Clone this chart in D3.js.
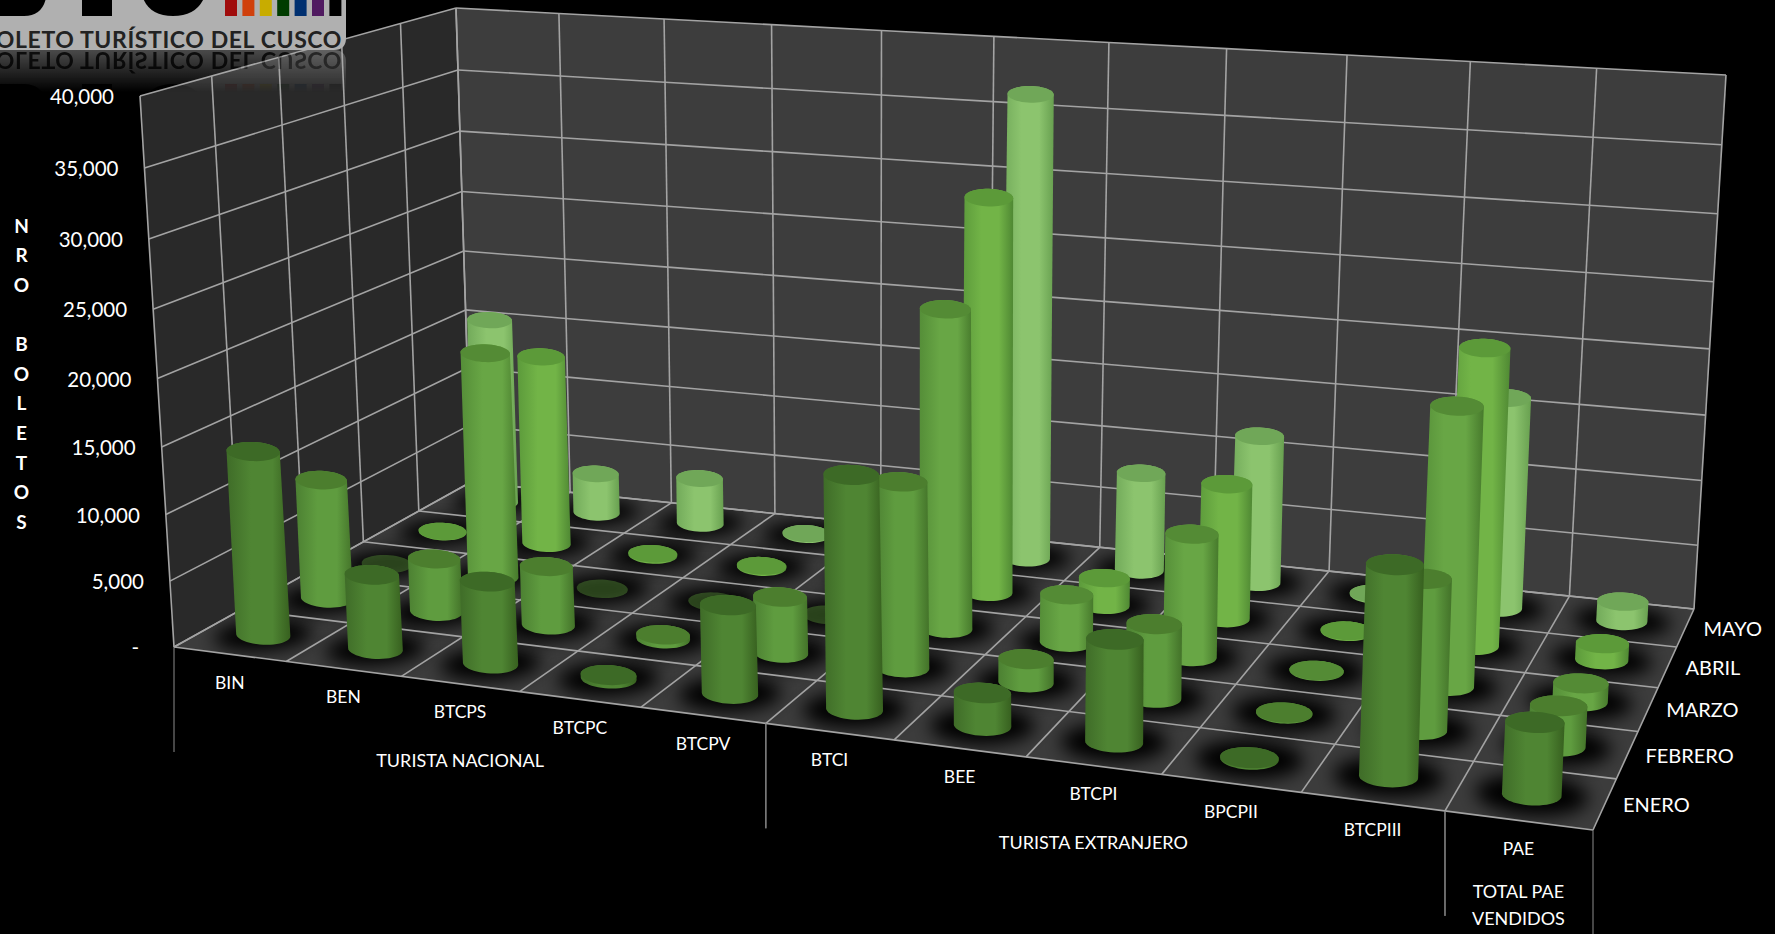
<!DOCTYPE html>
<html>
<head>
<meta charset="utf-8">
<script src="https://cdn.jsdelivr.net/npm/d3@7"></script>
<style>
    html, body { margin: 0; background: #000; overflow: hidden; }
    text { font-family: Lato, "Open Sans", sans-serif; fill: #fff; }
</style>
</head>
<body>
<svg id="chart" width="1775" height="934"></svg>
<script>
'use strict';

var categories = ['BIN', 'BEN', 'BTCPS', 'BTCPC', 'BTCPV', 'BTCI', 'BEE', 'BTCPI', 'BPCPII', 'BTCPIII', 'PAE'];
var months = ['ENERO', 'FEBRERO', 'MARZO', 'ABRIL', 'MAYO'];
var enero = [13900, 5600, 6100, 250, 6400, 16500, 2300, 7100, 100, 14100, 4800];
var febrero = [9300, 4100, 4500, 300, 4200, 13600, 1700, 5300, 60, 10500, 2800];
var marzo = [0, 17700, 0, 0, 0, 23900, 3600, 9100, 40, 20000, 1300];
var abril = [40, 15300, 100, 100, 0, 30300, 2100, 10300, 60, 22000, 1200];
var mayo = [15500, 3300, 3800, 80, 0, 36500, 7800, 11600, 80, 16200, 1500];
var series = [enero, febrero, marzo, abril, mayo];
var yTicks = [0, 5000, 10000, 15000, 20000, 25000, 30000, 35000, 40000];
var groups = [
    {lines: ['TURISTA NACIONAL'], from: 0, to: 5},
    {lines: ['TURISTA EXTRANJERO'], from: 5, to: 10},
    {lines: ['TOTAL PAE', 'VENDIDOS'], from: 10, to: 11}
];
var yTitle = 'NRO BOLETOS';

// body edge, body centre, body dark side, top face
var palette = [
    ['#3f6c28', '#4f8533', '#37601f', '#3d6a26'],
    ['#4c8032', '#5f9c3f', '#437229', '#4c7e2e'],
    ['#558e38', '#68a645', '#477a2c', '#548b35'],
    ['#5c9a3b', '#72b447', '#4f8833', '#5c9a39'],
    ['#72aa5a', '#8cc46e', '#68a050', '#70a758']
];

var svg = d3.select('#chart');
var defs = svg.append('defs');

// projection: floor and ceiling corners as seen in the picture
var floorQuad = [[174, 647], [1593, 830], [1694, 609], [471, 482]];
var ceilQuad = [[140, 96], [1625, 180], [1726, 75], [456, 8]];

function squareToQuad(q) {
    var dx1 = q[1][0] - q[2][0], dx2 = q[3][0] - q[2][0], sx = q[0][0] - q[1][0] + q[2][0] - q[3][0];
    var dy1 = q[1][1] - q[2][1], dy2 = q[3][1] - q[2][1], sy = q[0][1] - q[1][1] + q[2][1] - q[3][1];
    var den = dx1 * dy2 - dx2 * dy1;
    var g = (sx * dy2 - dx2 * sy) / den, h = (dx1 * sy - sx * dy1) / den;
    var a = q[1][0] - q[0][0] + g * q[1][0], b = q[3][0] - q[0][0] + h * q[3][0];
    var d = q[1][1] - q[0][1] + g * q[1][1], e = q[3][1] - q[0][1] + h * q[3][1];
    return function (u, v) {
        var W = g * u + h * v + 1;
        return [(a * u + b * v + q[0][0]) / W, (d * u + e * v + q[0][1]) / W];
    };
}

var floorMap = squareToQuad(floorQuad), ceilMap = squareToQuad(ceilQuad);
function warp(t, k) { return t * k / (1 + (k - 1) * t); }

function project(u, v, w) {
    var ww = warp(w, 0.95);
    var f = floorMap(warp(u, 1.015), v), c = ceilMap(warp(u, 0.89 + 0.032 * v), v);
    return [f[0] + (c[0] - f[0]) * ww, f[1] + (c[1] - f[1]) * ww];
}

var uScale = d3.scaleBand().domain(categories).range([0, 1]);
var vScale = d3.scaleBand().domain(months).range([0, 1]);
var wScale = d3.scaleLinear().domain([0, 40000]).range([0, 1]);
var uEdges = d3.range(categories.length + 1).map(function (i) { return i * uScale.step(); });
var vEdges = d3.range(months.length + 1).map(function (i) { return i * vScale.step(); });

var line = d3.line();
function closed(pts) { return line(pts) + 'Z'; }
function seg(a, b) { return line([a, b]); }

// walls and floor
var walls = svg.append('g');
walls.append('path').attr('d', closed([project(0, 1, 0), project(1, 1, 0), project(1, 1, 1), project(0, 1, 1)])).attr('fill', '#3d3d3d');
walls.append('path').attr('d', closed([project(0, 0, 0), project(0, 1, 0), project(0, 1, 1), project(0, 0, 1)])).attr('fill', '#292929');
walls.append('path').attr('d', closed([project(0, 0, 0), project(1, 0, 0), project(1, 1, 0), project(0, 1, 0)])).attr('fill', '#3c3c3c');

// soft dark patch under every column
defs.append('filter').attr('id', 'soft').attr('x', '-40%').attr('y', '-60%').attr('width', '180%').attr('height', '220%')
    .append('feGaussianBlur').attr('stdDeviation', 9);
defs.append('clipPath').attr('id', 'floorClip').append('path')
    .attr('d', closed([project(0, 0, 0), project(1, 0, 0), project(1, 1, 0), project(0, 1, 0)]));

var angles = d3.range(48).map(function (i) { return i / 48 * 2 * Math.PI; });

function floorRing(u, v, ru, rv) {
    return angles.map(function (t) {
        return project(u + ru * Math.cos(t), v + rv * Math.sin(t), 0);
    });
}

// column section: a nearly level ellipse on screen, narrower towards the back
function ring(u, v, w) {
    var c = project(u, v, w), a = project(u - 0.02, v, w), b = project(u + 0.02, v, w);
    var rx = (27.5 + 3 * u - 5.3 * v) * (1 - 0.05 * w), ry = rx * 0.36;
    var tilt = 0.35 * (b[1] - a[1]) / (b[0] - a[0]);
    return angles.map(function (t) {
        return [c[0] + rx * Math.cos(t), c[1] + ry * Math.sin(t) + tilt * rx * Math.cos(t)];
    });
}

var patches = svg.append('g').attr('clip-path', 'url(#floorClip)');
months.forEach(function (m) {
    categories.forEach(function (c) {
        var u = uScale(c) + uScale.step() / 2, v = vScale(m) + vScale.step() / 2;
        patches.append('path').attr('d', closed(floorRing(u, v, uScale.step() * 0.38, vScale.step() * 0.39)))
            .attr('fill', '#000').attr('filter', 'url(#soft)');
    });
});

// grid
var grid = svg.append('g').attr('stroke', '#a3a3a3').attr('stroke-width', 1.6).attr('fill', 'none');
uEdges.forEach(function (u) {
    grid.append('path').attr('d', seg(project(u, 0, 0), project(u, 1, 0)));
    grid.append('path').attr('d', seg(project(u, 1, 0), project(u, 1, 1)));
});
vEdges.forEach(function (v) {
    grid.append('path').attr('d', seg(project(0, v, 0), project(1, v, 0)));
    grid.append('path').attr('d', seg(project(0, v, 0), project(0, v, 1)));
});
yTicks.forEach(function (t) {
    var w = wScale(t);
    grid.append('path').attr('d', seg(project(0, 0, w), project(0, 1, w)));
    grid.append('path').attr('d', line(uEdges.map(function (u) { return project(u, 1, w); })));
});

// cylinders, back row first
palette.forEach(function (p, i) {
    var g = defs.append('linearGradient').attr('id', 'body' + i);
    g.append('stop').attr('offset', '0%').attr('stop-color', p[0]);
    g.append('stop').attr('offset', '38%').attr('stop-color', p[1]);
    g.append('stop').attr('offset', '72%').attr('stop-color', p[1]);
    g.append('stop').attr('offset', '100%').attr('stop-color', p[2]);
});

var cols = svg.append('g');
d3.range(months.length - 1, -1, -1).forEach(function (s) {
    categories.forEach(function (c, k) {
        var value = series[s][k];
        var u = uScale(c) + uScale.step() / 2, v = vScale(months[s]) + vScale.step() / 2;
        var w = wScale(value);
        var base = ring(u, v, 0), top = ring(u, v, w);
        if (value > 0) {
            cols.append('path').attr('d', closed(d3.polygonHull(base.concat(top)))).attr('fill', 'url(#body' + s + ')');
        }
        // empty cells only leave a dim disc on the floor
        cols.append('path').attr('d', closed(top))
            .attr('fill', palette[s][3])
            .attr('fill-opacity', value > 0 ? 1 : 0.45);
    });
});

// value axis
var labels = svg.append('g');
yTicks.forEach(function (t) {
    var p = project(0, 0, wScale(t));
    labels.append('text').attr('x', p[0] - (t === 0 ? 35 : 26)).attr('y', p[1] + 3)
        .attr('text-anchor', 'end').attr('dominant-baseline', 'middle').attr('font-size', 20.5)
        .text(t === 0 ? '-' : d3.format(',')(t));
});

var titleY = d3.scalePoint().domain(d3.range(yTitle.length)).range([228, 524]);
yTitle.split('').forEach(function (ch, i) {
    labels.append('text').attr('x', 21.5).attr('y', titleY(i))
        .attr('text-anchor', 'middle').attr('dominant-baseline', 'middle')
        .attr('font-size', 19).attr('font-weight', 700).text(ch);
});

categories.forEach(function (c) {
    var p = project(uScale(c) + uScale.step() / 2, 0, 0);
    labels.append('text').attr('x', p[0]).attr('y', p[1] + 30)
        .attr('text-anchor', 'middle').attr('dominant-baseline', 'middle').attr('font-size', 17.5).text(c);
});

months.forEach(function (m) {
    var p = project(1, vScale(m) + vScale.step() / 2, 0);
    labels.append('text').attr('x', p[0] + 18).attr('y', p[1] + 3)
        .attr('dominant-baseline', 'middle').attr('font-size', 20).text(m);
});

// group brackets below the front edge
groups.forEach(function (g) {
    [g.from, g.to].forEach(function (i) {
        var p = project(uEdges[i], 0, 0);
        labels.append('path').attr('d', seg(p, [p[0], p[1] + 105])).attr('stroke', '#8c8c8c').attr('fill', 'none');
    });
    var mid = project((uEdges[g.from] + uEdges[g.to]) / 2, 0, 0);
    g.lines.forEach(function (t, i) {
        labels.append('text').attr('x', mid[0]).attr('y', mid[1] + 79 - (g.lines.length - 1) * 6 + i * 27)
            .attr('text-anchor', 'middle').attr('dominant-baseline', 'middle').attr('font-size', 18).text(t);
    });
});

// logo clipped by the top left corner, with its reflection
var stripes = ['#a00c0c', '#d0400c', '#c8ac00', '#003c00', '#003070', '#501a60', '#000'];
function drawLogo(g) {
    g.append('path').attr('d', 'M-10,-2H346V38Q346,50 334,50H-10Z').attr('fill', '#b0b0b0');
    g.append('path').attr('d', 'M-10,-2H46Q42,16 24,16H-10Z').attr('fill', '#000');
    g.append('rect').attr('x', 82).attr('y', -2).attr('width', 30).attr('height', 18).attr('fill', '#000');
    g.append('path').attr('d', 'M143,-2H204Q196,16 173,16Q150,16 143,-2Z').attr('fill', '#000');
    stripes.forEach(function (c, i) {
        g.append('rect').attr('x', 225 + i * 17.4).attr('y', -2).attr('width', 12).attr('height', 18).attr('fill', c);
    });
    g.append('text').attr('x', 342).attr('y', 48).attr('text-anchor', 'end')
        .attr('font-size', 23).attr('font-weight', 700).attr('letter-spacing', 0.6)
        .style('fill', '#222').text('BOLETO TURÍSTICO DEL CUSCO');
}
var fade = defs.append('linearGradient').attr('id', 'fade').attr('gradientUnits', 'userSpaceOnUse')
    .attr('x1', 0).attr('y1', 50).attr('x2', 0).attr('y2', 92);
fade.append('stop').attr('offset', '0%').attr('stop-color', '#fff').attr('stop-opacity', 0.42);
fade.append('stop').attr('offset', '100%').attr('stop-color', '#fff').attr('stop-opacity', 0);
defs.append('mask').attr('id', 'fadeMask').attr('maskUnits', 'userSpaceOnUse')
    .attr('x', 0).attr('y', 50).attr('width', 350).attr('height', 45)
    .append('rect').attr('x', 0).attr('y', 50).attr('width', 350).attr('height', 45).attr('fill', 'url(#fade)');
var reflection = svg.append('g').attr('mask', 'url(#fadeMask)');
drawLogo(reflection.append('g').attr('transform', 'translate(0,100) scale(1,-1)'));
drawLogo(svg.append('g'));
</script>
</body>
</html>
